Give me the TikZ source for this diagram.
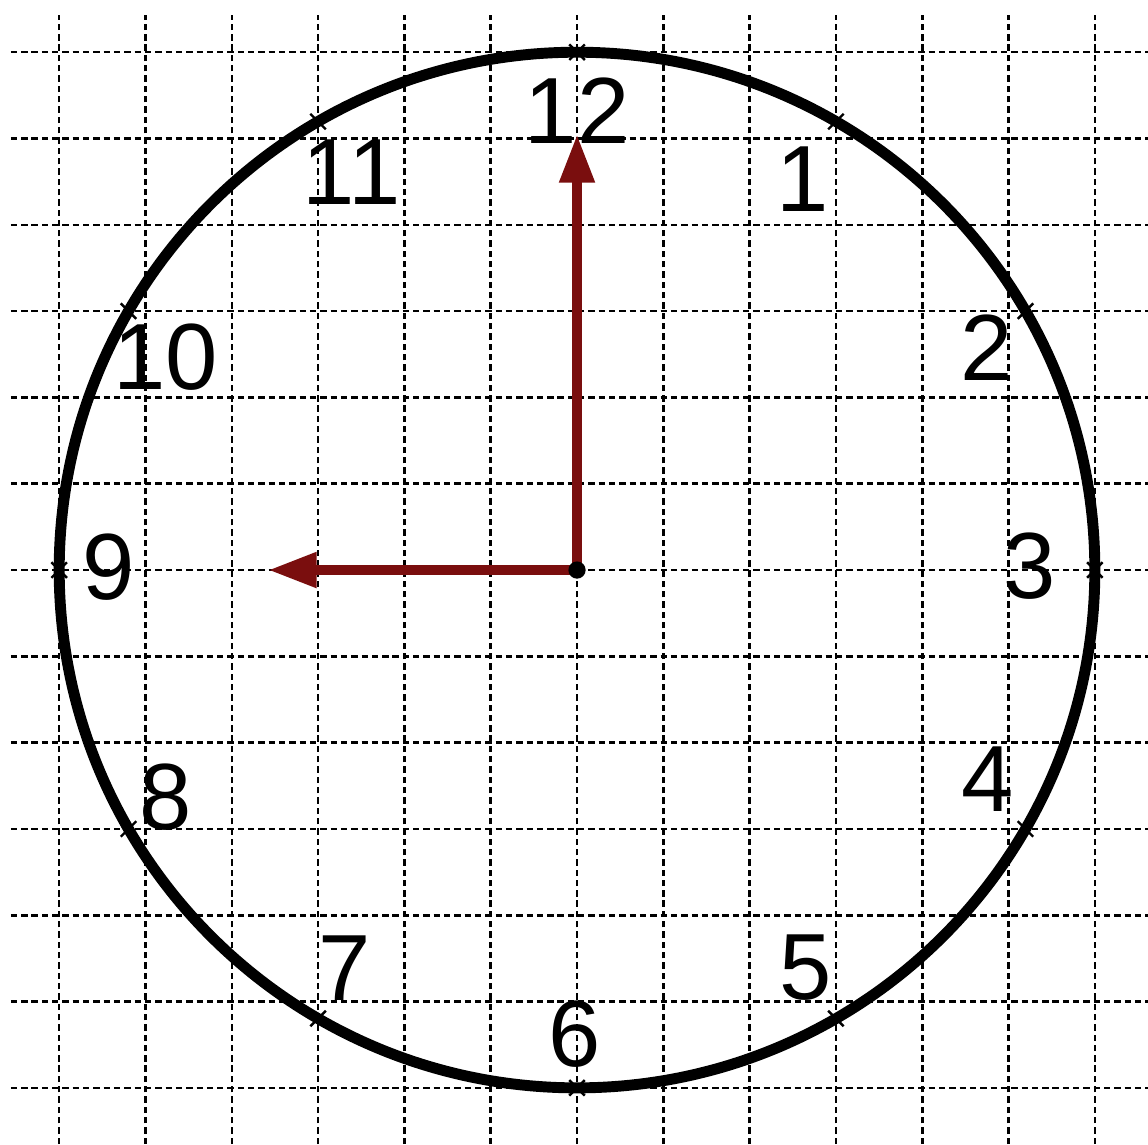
\documentclass[tikz,border=0pt]{standalone}
\usepackage{fontspec}
\setmainfont{Liberation Sans}
\usetikzlibrary{arrows.meta}
\definecolor{handred}{RGB}{122,14,14}
\begin{document}
\begin{tikzpicture}[
  gridline/.style={line width=0.85pt, dash pattern=on 2.1pt off 1.3pt, black},
  hand/.style={line width=3.3pt, handred, -{Triangle[length=16pt,width=11pt]}},
  num/.style={inner sep=0pt, font=\fontsize{31}{31}\selectfont},
  tickmark/.style={line width=0.8pt},
]
\useasboundingbox (-6.686,-6.651) rectangle (6.616,6.605);
\foreach \i in {-6,...,6} {
  \draw[gridline] (\i,-6.651) -- (\i,6.43);
  \draw[gridline] (-6.56,\i) -- (6.616,\i);
}
\node[draw, circle, minimum size=12cm, inner sep=0pt, line width=3.6pt] (face) at (0,0) {};
\foreach \a in {0,30,...,330} {
  \draw[tickmark] (\a:6) ++(-0.09,-0.09) -- ++(0.18,0.18)
                  (\a:6) ++(-0.09,0.09) -- ++(0.18,-0.18);
}
\node[num] (n12) at (0,5.32) {12};
\node[num] (n1) at (2.62,4.53) {1};
\node[num] (n2) at (4.75,2.58) {2};
\node[num] (n3) at (5.25,0.05) {3};
\node[num] (n4) at (4.76,-2.42) {4};
\node[num] (n5) at (2.65,-4.61) {5};
\node[num] (n6) at (-0.03,-5.38) {6};
\node[num] (n7) at (-2.69,-4.61) {7};
\node[num] (n8) at (-4.77,-2.63) {8};
\node[num] (n9) at (-5.43,0.03) {9};
\node[num] (n10) at (-4.77,2.47) {10};
\node[num] (n11) at (-2.61,4.61) {11};
\coordinate (o) at (0,0);
\coordinate (mtip) at (0,5.05);
\coordinate (htip) at (-3.58,0);
\draw[hand] (o) -- (mtip);
\draw[hand] (o) -- (htip);
\node[circle, fill=black, minimum size=0.2cm, inner sep=0pt] (c) at (o) {};
\end{tikzpicture}
\end{document}
